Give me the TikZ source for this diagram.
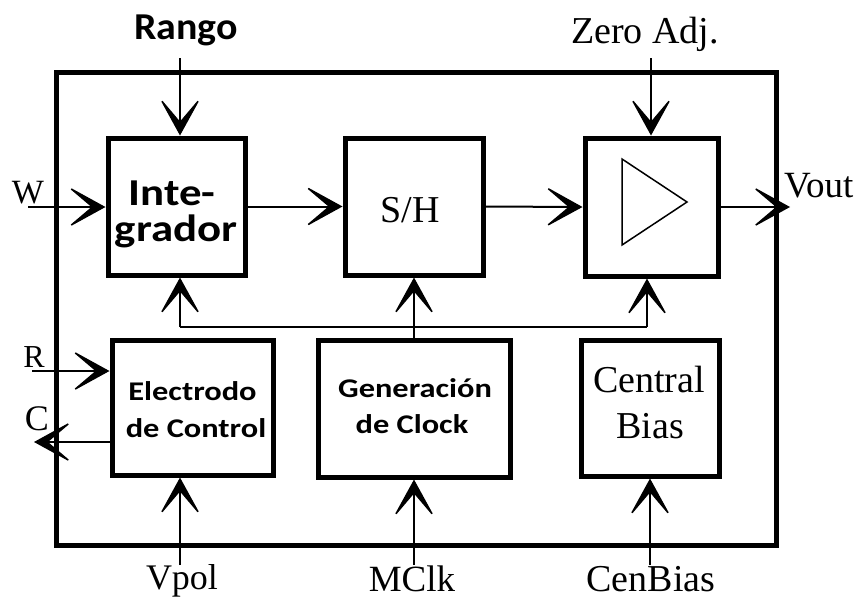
\documentclass[tikz,border=0pt]{standalone}
\usepackage{fontspec}
\setmainfont{Liberation Serif}
\newfontfamily\calfont[FakeStretch=1.2]{Carlito}
\newfontfamily\calfontN[FakeStretch=1.05]{Carlito}
\newfontfamily\calfontW[FakeStretch=1.18]{Carlito}
\usetikzlibrary{arrows.meta}
\begin{document}
\begin{tikzpicture}[x=1pt,y=-1pt,
  box/.style={draw, line width=5pt, inner sep=0pt},
  conn/.style={line width=2pt, -{Stealth[length=40pt,width=44pt,inset=26pt,line width=1.4pt]}},
  wire/.style={line width=2pt},
  tlab/.style={font=\fontsize{#1}{#1}\selectfont, inner sep=0pt, anchor=base},
  tlab/.default=36,
  blab/.style={font=\calfont\bfseries\fontsize{#1}{#1}\selectfont, inner sep=0pt, anchor=base},
  blab/.default=27,
  blabN/.style={font=\calfontN\bfseries\fontsize{#1}{#1}\selectfont, inner sep=0pt, anchor=base},
  blabW/.style={font=\calfontW\bfseries\fontsize{#1}{#1}\selectfont, inner sep=0pt, anchor=base, text height=0.7em, text depth=0.2em}]
\useasboundingbox (0,0) rectangle (864,603);
% frame
\node[box, minimum width=720pt, minimum height=473pt] (frame) at (416,308.5) {};
% blocks
\node[box, minimum width=137pt, minimum height=137pt] (integ) at (176.5,206.5) {};
\node[box, minimum width=138pt, minimum height=137pt] (sh) at (414,206.5) {};
\node[box, minimum width=133pt, minimum height=138pt] (amp) at (651.5,207) {};
\node[box, minimum width=161pt, minimum height=135pt] (elec) at (192.5,407.5) {};
\node[box, minimum width=192pt, minimum height=137pt] (gen) at (414,408.5) {};
\node[box, minimum width=138pt, minimum height=136pt] (cb) at (650,408) {};
% block texts
\node[blabW=38, text depth=0pt] (integA) at (172,205) {Inte-};
\node[blabW=38, text height=0.62em] (integB) at (176,241) {grador};
\node[tlab=38] (shT) at (410,222) {S/H};
\draw[line width=1.5pt, line join=miter] (622,159) -- (622,245) -- (687,202) -- cycle;
\node[blab] (elecA) at (192.5,400) {Electrodo};
\node[blab] (elecB) at (196,437) {de Control};
\node[blab] (genA) at (415,397) {Generación};
\node[blab] (genB) at (412,433) {de Clock};
\node[tlab=38] (cbA) at (649,392) {Central};
\node[tlab=38] (cbB) at (650,438) {Bias};
% outside labels
\node[blabN=38] (rango) at (186,39) {Rango};
\node[tlab=38] (zero) at (645,43) {Zero Adj.};
\node[tlab=34] (w) at (28,203) {W};
\node[tlab=32] (r) at (34,367) {R};
\node[tlab=36] (c) at (37,430) {C};
\node[tlab=37, anchor=base west] (vout) at (784,197) {Vout};
\node[tlab=36] (vpol) at (182,589) {Vpol};
\node[tlab=37] (mclk) at (412,591) {MClk};
\node[tlab=38] (cenbias) at (651,591) {CenBias};
% coordinates
\coordinate (rangoIn) at (180,58);
\coordinate (zeroIn) at (651,58);
\coordinate (wIn) at (28,207);
\coordinate (rIn) at (32,371);
\coordinate (cOut) at (34,442);
\coordinate (voutOut) at (790,207);
\coordinate (vpolIn) at (180,565);
\coordinate (mclkIn) at (414,565);
\coordinate (cbIn) at (650,565);
\coordinate (busL) at (180,327);
\coordinate (busR) at (647,327);
% connectors
\draw[conn] (rangoIn) -- (rangoIn |- integ.north);
\draw[conn] (zeroIn) -- (zeroIn |- amp.north);
\draw[conn] (wIn) -- (wIn -| integ.west);
\draw[conn] (integ.east) -- (sh.west);
\draw[conn] (sh.east) -- (amp.west);
\draw[conn] (amp.east) -- (voutOut);
\draw[conn] (rIn) -- (rIn -| elec.west);
\draw[conn] (cOut -| elec.west) -- (cOut);
\draw[conn] (vpolIn) -- (vpolIn |- elec.south);
\draw[conn] (mclkIn) -- (gen.south);
\draw[conn] (cbIn) -- (cb.south);
\draw[conn] (gen.north) -- (sh.south);
\draw[wire] (busL) -- (busR);
\draw[conn] (busL) -- (busL |- integ.south);
\draw[conn] (busR) -- (busR |- amp.south);
\end{tikzpicture}
\end{document}
